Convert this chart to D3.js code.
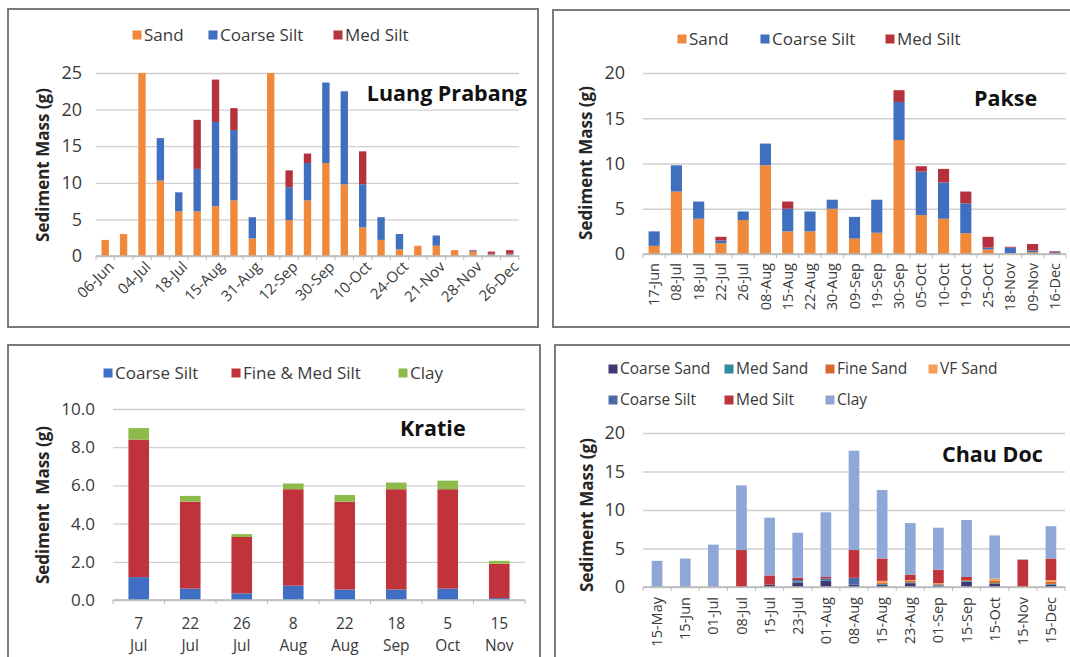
<!DOCTYPE html>
<html>
<head>
<meta charset="utf-8">
<script src="https://cdnjs.cloudflare.com/ajax/libs/d3/7.8.5/d3.min.js"></script>
<style>
  body { margin: 0; background: #fff; }
  svg { display: block; font-family: "Open Sans", Lato, sans-serif; }
</style>
</head>
<body>
<svg id="chart" width="1070" height="657"></svg>
<script>
// ---- Luang Prabang ----
const lpDates = ["06-Jun","20-Jun","04-Jul","11-Jul","18-Jul","01-Aug","15-Aug","24-Aug","31-Aug","05-Sep","12-Sep","20-Sep",
  "30-Sep","05-Oct","10-Oct","17-Oct","24-Oct","07-Nov","21-Nov","24-Nov","28-Nov","12-Dec","26-Dec"]
const lpSand       = [2.2, 3.0, 25, 10.3, 6.1, 6.1, 6.8, 7.6, 2.4, 25, 4.9, 7.6, 12.7, 9.8, 3.9, 2.2, 0.9, 1.4, 1.4, 0.8, 0.6, 0.2, 0.2]
const lpCoarseSilt = [0, 0, 0, 5.8, 2.6, 5.8, 11.5, 9.6, 2.9, 0, 4.5, 5.1, 11.0, 12.7, 5.9, 3.1, 2.1, 0, 1.4, 0, 0.1, 0.1, 0.1]
const lpMedSilt    = [0, 0, 0, 0, 0, 6.7, 5.8, 3.0, 0, 0, 2.3, 1.3, 0, 0, 4.5, 0, 0, 0, 0, 0, 0.1, 0.3, 0.5]

// ---- Pakse ----
const pkDates = ["17-Jun","08-Jul","18-Jul","22-Jul","26-Jul","08-Aug","15-Aug","22-Aug","30-Aug","09-Sep","19-Sep","30-Sep",
  "05-Oct","10-Oct","19-Oct","25-Oct","18-Nov","09-Nov","16-Dec"]
const pkSand       = [0.9, 6.9, 3.9, 1.2, 3.75, 9.8, 2.5, 2.5, 5.0, 1.7, 2.35, 12.6, 4.3, 3.9, 2.3, 0.5, 0.1, 0.2, 0]
const pkCoarseSilt = [1.6, 2.9, 1.9, 0.3, 0.95, 2.4, 2.5, 2.2, 1.0, 2.4, 3.65, 4.2, 4.8, 4.0, 3.3, 0.2, 0.6, 0.2, 0.2]
const pkMedSilt    = [0, 0, 0, 0.4, 0, 0, 0.8, 0, 0, 0, 0, 1.3, 0.6, 1.5, 1.3, 1.2, 0.1, 0.7, 0.1]

// ---- Kratie ----
const krDays   = ["7","22","26","8","22","18","5","15"]
const krMonths = ["Jul","Jul","Jul","Aug","Aug","Sep","Oct","Nov"]
const krCoarseSilt  = [1.2, 0.6, 0.35, 0.75, 0.55, 0.55, 0.6, 0.1]
const krFineMedSilt = [7.2, 4.55, 2.95, 5.05, 4.6, 5.25, 5.2, 1.8]
const krClay        = [0.6, 0.3, 0.15, 0.3, 0.35, 0.35, 0.45, 0.15]

// ---- Chau Doc ----
const cdDates = ["15-May","15-Jun","01-Jul","08-Jul","15-Jul","23-Jul","01-Aug","08-Aug","15-Aug","23-Aug","01-Sep","15-Sep",
  "15-Oct","15-Nov","15-Dec"]
const cdCoarseSand = [0, 0, 0, 0, 0.3, 0.6, 0.8, 0.3, 0.3, 0.5, 0.2, 0.7, 0.4, 0, 0.3]
const cdMedSand    = [0, 0, 0, 0, 0, 0.1, 0.1, 0, 0.1, 0.1, 0.1, 0.1, 0.1, 0, 0.1]
const cdFineSand   = [0, 0, 0, 0, 0, 0, 0, 0, 0.2, 0.2, 0.1, 0.1, 0.3, 0, 0.3]
const cdVFSand     = [0, 0, 0, 0, 0, 0, 0, 0, 0.2, 0.1, 0.1, 0, 0.3, 0, 0.2]
const cdCoarseSilt = [0, 0, 0, 0, 0, 0.2, 0.2, 0.9, 0, 0, 0, 0, 0, 0, 0]
const cdMedSilt    = [0, 0, 0, 4.8, 1.2, 0.3, 0.2, 3.6, 2.9, 0.7, 1.75, 0.4, 0, 3.55, 2.8]
const cdClay       = [3.4, 3.7, 5.5, 8.4, 7.5, 5.85, 8.4, 12.9, 8.9, 6.7, 5.45, 7.4, 5.6, 0.05, 4.2]

const svg = d3.select("#chart")

function drawPanel(p) {
  const g = svg.append("g")

  // frame
  g.append("rect")
    .attr("x", p.frame[0]).attr("y", p.frame[1])
    .attr("width", p.frame[2]).attr("height", p.frame[3])
    .attr("fill", "#fff").attr("stroke", "#7b7b7b").attr("stroke-width", 2)

  const keys = p.series.map(s => s.name)
  const rows = p.cats.map((c, i) => {
    const r = { cat: c }
    p.series.forEach(s => r[s.name] = s.values[i])
    return r
  })

  const x = d3.scaleBand()
    .domain(p.cats)
    .range([p.left, p.right])
    .paddingInner(p.pad)
    .paddingOuter(p.pad / 2)

  const y = d3.scaleLinear()
    .domain([0, p.yMax])
    .range([p.bottom, p.top])

  // gridlines + y labels
  const yAxis = d3.axisLeft(y)
    .tickValues(d3.range(0, p.yMax + p.yStep / 2, p.yStep))
    .tickSize(-(p.right - p.left))
    .tickPadding(p.tickPad)
    .tickFormat(d3.format(p.yFormat))
  const ya = g.append("g")
    .attr("transform", `translate(${p.left},0)`)
    .call(yAxis)
  ya.select(".domain").remove()
  ya.selectAll(".tick line").attr("stroke", "#cfcfcf").attr("stroke-width", 1.3)
  ya.selectAll(".tick text")
    .attr("fill", "#3a3a3a")
    .style("font-family", "'Open Sans', sans-serif")
    .style("font-size", p.tickFont + "px")

  // bars
  const stacked = d3.stack().keys(keys)(rows)
  const color = d3.scaleOrdinal().domain(keys).range(p.series.map(s => s.color))
  g.selectAll(".layer")
    .data(stacked)
    .join("g")
      .attr("fill", d => color(d.key))
    .selectAll("rect")
    .data(d => d)
    .join("rect")
      .attr("x", d => x(d.data.cat))
      .attr("width", x.bandwidth())
      .attr("y", d => y(d[1]))
      .attr("height", d => y(d[0]) - y(d[1]))

  // x axis line + ticks between categories
  g.append("line")
    .attr("x1", p.left).attr("x2", p.right)
    .attr("y1", p.bottom).attr("y2", p.bottom)
    .attr("stroke", "#b8b8b8").attr("stroke-width", 1.3)
  g.selectAll(".xtick")
    .data(d3.range(p.cats.length + 1))
    .join("line")
      .attr("x1", i => p.left + i * x.step())
      .attr("x2", i => p.left + i * x.step())
      .attr("y1", p.bottom).attr("y2", p.bottom + 4)
      .attr("stroke", "#b8b8b8")

  // x labels
  const lab = g.selectAll(".xlab")
    .data(p.cats.map((c, i) => ({ c, i })).filter(d => d.i % p.labelEvery === 0))
    .join("text")
      .attr("fill", "#3a3a3a")
      .style("font-size", p.xFont + "px")
  if (p.labelMode === "rot45") {
    lab.attr("text-anchor", "end")
      .attr("transform", d => `translate(${x(d.c) + x.bandwidth() / 2 + 6},${p.bottom + 8}) rotate(-45)`)
      .attr("dy", "0.35em")
      .text(d => d.c)
  } else if (p.labelMode === "rot90") {
    lab.attr("text-anchor", "end")
      .attr("transform", d => `translate(${x(d.c) + x.bandwidth() / 2},${p.bottom + p.labelGap}) rotate(-90)`)
      .attr("dy", "0.35em")
      .text(d => d.c)
  } else {
    lab.attr("text-anchor", "middle")
      .attr("x", d => x(d.c) + x.bandwidth() / 2)
      .attr("y", p.bottom + 29)
      .text(d => p.line1[d.i])
    g.selectAll(".xlab2")
      .data(p.line2)
      .join("text")
        .attr("fill", "#3a3a3a")
        .style("font-size", p.xFont + "px")
        .attr("text-anchor", "middle")
        .attr("x", (d, i) => x(p.cats[i]) + x.bandwidth() / 2)
        .attr("y", p.bottom + 51)
        .text(d => d)
  }

  // y title
  g.append("text")
    .attr("transform", `translate(${p.yTitlePos[0]},${p.yTitlePos[1]}) rotate(-90)`)
    .attr("text-anchor", "middle")
    .attr("dy", "0.35em")
    .attr("fill", "#262626")
    .style("font-size", "17px")
    .style("font-weight", "bold")
    .style("white-space", "pre")
    .text(p.yTitle)

  // station name
  g.append("text")
    .attr("x", p.titlePos[0]).attr("y", p.titlePos[1])
    .attr("text-anchor", p.titleAnchor || "start")
    .attr("dy", "0.35em")
    .attr("fill", "#111")
    .style("font-size", "21.5px")
    .style("font-weight", "bold")
    .text(p.title)

  // legend
  const leg = g.selectAll(".leg")
    .data(p.series.map((s, i) => ({ s, pos: p.legend[i] })))
    .join("g")
      .attr("transform", d => `translate(${d.pos[0]},${d.pos[1]})`)
  leg.append("rect")
    .attr("x", -4.5).attr("y", -4.5)
    .attr("width", 9).attr("height", 9)
    .attr("fill", d => d.s.color)
  leg.append("text")
    .attr("x", 7).attr("dy", "0.35em")
    .attr("fill", "#3a3a3a")
    .style("font-size", p.legendFont + "px")
    .text(d => d.s.name)
}

drawPanel({
  frame: [8, 9, 530, 318],
  cats: lpDates,
  series: [
    { name: "Sand", values: lpSand, color: "#f0893b" },
    { name: "Coarse Silt", values: lpCoarseSilt, color: "#3f6fbe" },
    { name: "Med Silt", values: lpMedSilt, color: "#b5323c" }
  ],
  left: 96, right: 519, top: 73, bottom: 256, pad: 0.6,
  yMax: 25, yStep: 5, yFormat: "d", tickPad: 14, tickFont: 18,
  labelMode: "rot45", labelEvery: 2, xFont: 15,
  yTitle: "Sediment Mass (g)", yTitlePos: [43, 165],
  title: "Luang Prabang", titlePos: [527, 93], titleAnchor: "end",
  legend: [[137, 35], [213, 35], [338, 35]], legendFont: 17
})

drawPanel({
  frame: [553, 10, 530, 317],
  cats: pkDates,
  series: [
    { name: "Sand", values: pkSand, color: "#f0893b" },
    { name: "Coarse Silt", values: pkCoarseSilt, color: "#3f6fbe" },
    { name: "Med Silt", values: pkMedSilt, color: "#b5323c" }
  ],
  left: 643, right: 1066, top: 73, bottom: 254, pad: 0.5,
  yMax: 20, yStep: 5, yFormat: "d", tickPad: 18, tickFont: 18,
  labelMode: "rot90", labelEvery: 1, labelGap: 9, xFont: 14.5,
  yTitle: "Sediment Mass (g)", yTitlePos: [586, 163],
  title: "Pakse", titlePos: [974, 98],
  legend: [[682, 39], [765, 39], [890, 39]], legendFont: 17
})

drawPanel({
  frame: [8, 345, 532, 320],
  cats: krDays.map((d, i) => d + " " + krMonths[i]),
  line1: krDays,
  line2: krMonths,
  series: [
    { name: "Coarse Silt", values: krCoarseSilt, color: "#3f6fc4" },
    { name: "Fine & Med Silt", values: krFineMedSilt, color: "#c0333b" },
    { name: "Clay", values: krClay, color: "#8dbb4a" }
  ],
  left: 113, right: 525, top: 409, bottom: 600, pad: 0.6,
  yMax: 10, yStep: 2, yFormat: ".1f", tickPad: 18, tickFont: 17,
  labelMode: "two", labelEvery: 1, xFont: 15.5,
  yTitle: "Sediment  Mass (g)", yTitlePos: [43, 505],
  title: "Kratie", titlePos: [400, 428],
  legend: [[108, 373], [236, 373], [403, 373]], legendFont: 17
})

drawPanel({
  frame: [555, 345, 530, 320],
  cats: cdDates,
  series: [
    { name: "Coarse Sand", values: cdCoarseSand, color: "#3d3a75" },
    { name: "Med Sand", values: cdMedSand, color: "#2f8a9c" },
    { name: "Fine Sand", values: cdFineSand, color: "#d9692a" },
    { name: "VF Sand", values: cdVFSand, color: "#f5a05a" },
    { name: "Coarse Silt", values: cdCoarseSilt, color: "#4a6aa5" },
    { name: "Med Silt", values: cdMedSilt, color: "#c0333b" },
    { name: "Clay", values: cdClay, color: "#8ea7d6" }
  ],
  left: 643, right: 1065, top: 433, bottom: 587, pad: 0.62,
  yMax: 20, yStep: 5, yFormat: "d", tickPad: 18, tickFont: 18,
  labelMode: "rot90", labelEvery: 1, labelGap: 10, xFont: 14.5,
  yTitle: "Sediment Mass (g)", yTitlePos: [587, 515],
  title: "Chau Doc", titlePos: [942, 454],
  legend: [[613, 369], [729, 369], [830, 369], [933, 369], [613, 400], [729, 400], [830, 400]], legendFont: 15.5
})
</script>
</body>
</html>
